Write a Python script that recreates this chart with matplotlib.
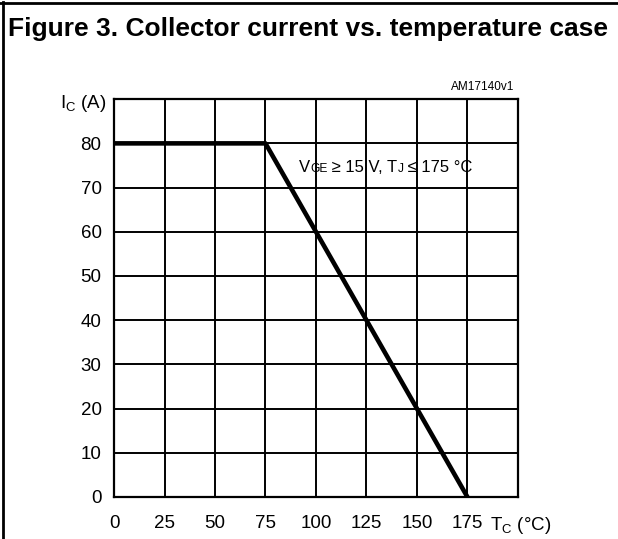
import matplotlib
matplotlib.use('Agg')
import matplotlib.pyplot as plt
from matplotlib.lines import Line2D

plt.rcParams['font.family'] = ['Liberation Sans', 'DejaVu Sans']

# ── data ────────────────────────────────────────────
tc = [0, 75, 175]          # case temperature (°C)
ic = [80, 80, 0]           # collector current (A)
x_ticks = [0, 25, 50, 75, 100, 125, 150, 175, 200]
y_ticks = [0, 10, 20, 30, 40, 50, 60, 70, 80, 90]
x_labels = ["0", "25", "50", "75", "100", "125", "150", "175", ""]
y_labels = ["0", "10", "20", "30", "40", "50", "60", "70", "80", ""]

FS = 13.5

fig = plt.figure(figsize=(6.18, 5.39), dpi=100)

# frame of the figure (top and left border lines)
fig.add_artist(Line2D([0.005, 0.005], [0, 0.996], transform=fig.transFigure,
                      color="black", lw=2))
fig.add_artist(Line2D([0.0, 0.998], [0.994, 0.994], transform=fig.transFigure,
                      color="black", lw=2))
fig.text(0.013, 0.947, "Figure 3. Collector current vs. temperature case",
         fontsize=19, fontweight="bold", ha="left", va="center")

ax = fig.add_axes([0.1845, 0.078, 0.6535, 0.738])
ax.plot(tc, ic, color="black", lw=3.3, solid_capstyle="butt")
ax.set_xlim(0, 200)
ax.set_ylim(0, 90)
ax.set_xticks(x_ticks)
ax.set_yticks(y_ticks)
ax.set_xticklabels(x_labels, fontsize=FS)
ax.set_yticklabels(y_labels, fontsize=FS)
ax.tick_params(axis="x", length=0, pad=13)
ax.tick_params(axis="y", length=0, pad=9)
ax.grid(True, color="black", lw=1.4)
for sp in ax.spines.values():
    sp.set_linewidth(1.6)

# axis labels
ax.text(-0.018, 0.99, r"I$_\mathregular{C}$ (A)", transform=ax.transAxes,
        ha="right", va="center", fontsize=FS)
ax.text(0.93, -0.072, r"T$_\mathregular{C}$ (°C)", transform=ax.transAxes,
        ha="left", va="center", fontsize=FS)
ax.text(0.99, 1.015, "AM17140v1", transform=ax.transAxes,
        ha="right", va="bottom", fontsize=8.5)

# condition text: V_GE ≥ 15 V, T_J ≤ 175 °C
FA = 12
t1 = ax.text(91.5, 73.5, "V", fontsize=FA, ha="left", va="baseline")
t2 = ax.annotate("GE", xy=(1, 0), xycoords=t1, fontsize=FA * 0.72, va="bottom")
t3 = ax.annotate(" ≥ 15 V, T", xy=(1, 0), xycoords=t2, fontsize=FA, va="bottom")
t4 = ax.annotate("J", xy=(1, 0), xycoords=t3, fontsize=FA * 0.72, va="bottom")
ax.annotate(" ≤ 175 °C", xy=(1, 0), xycoords=t4, fontsize=FA, va="bottom")

plt.savefig("out.png", dpi=100)
plt.close()
